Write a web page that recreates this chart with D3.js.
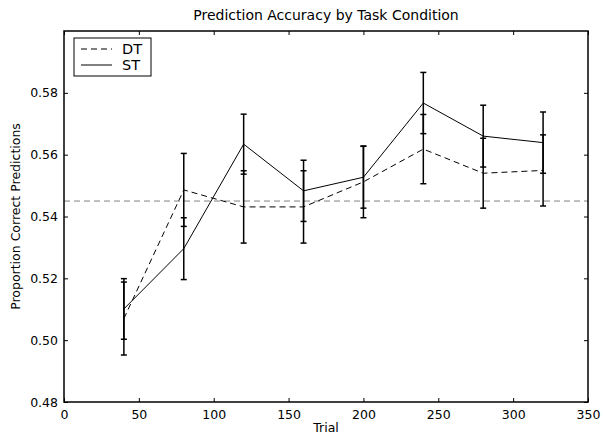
<!DOCTYPE html>
<html>
<head>
<meta charset="utf-8">
<script src="https://cdn.jsdelivr.net/npm/d3@7"></script>
<style>
  body { margin: 0; background: #fff; }
  text { font-family: "DejaVu Sans", sans-serif; fill: #000; }
</style>
</head>
<body>
<div id="chart"></div>
<script>
// data
var trials = [40, 80, 120, 160, 200, 240, 280, 320];
var dtMean = [0.507, 0.5486, 0.5431, 0.5431, 0.5512, 0.5618, 0.554, 0.5549];
var dtErr  = [0.0118, 0.0118, 0.0117, 0.0117, 0.0116, 0.0112, 0.0113, 0.0115];
var stMean = [0.5101, 0.5296, 0.5634, 0.5483, 0.5527, 0.5767, 0.566, 0.5639];
var stErr  = [0.0098, 0.0100, 0.0097, 0.0099, 0.0100, 0.0099, 0.0100, 0.0099];
var chance = 0.545;
var xTicks = [0, 50, 100, 150, 200, 250, 300, 350];
var yTicks = [0.48, 0.50, 0.52, 0.54, 0.56, 0.58];

var width = 603, height = 438;
var margin = {top: 31, right: 15, bottom: 36, left: 64};

var svg = d3.select("#chart").append("svg")
    .attr("width", width)
    .attr("height", height);

var x = d3.scaleLinear().domain([0, 350]).range([margin.left, width - margin.right]);
var y = d3.scaleLinear().domain([0.48, 0.60]).range([height - margin.bottom, margin.top]);

// ticks on all four sides, pointing inward like matplotlib
function tickLines(axisGen, cls, transform) {
  var g = svg.append("g").attr("class", cls).attr("transform", transform).call(axisGen);
  g.select(".domain").remove();
  g.selectAll(".tick line").attr("stroke", "#000").attr("stroke-width", 1);
  return g;
}

var bottom = tickLines(d3.axisBottom(x).tickValues(xTicks).tickSize(-4).tickPadding(6).tickFormat(d3.format("d")),
  "x-axis", "translate(0," + y.range()[0] + ")");
bottom.selectAll("text").attr("font-size", "12.5px").attr("dy", "0.85em");
tickLines(d3.axisTop(x).tickValues(xTicks).tickSize(-4).tickFormat(""), "x-top", "translate(0," + y.range()[1] + ")");

var left = tickLines(d3.axisLeft(y).tickValues(yTicks).tickSize(-4).tickPadding(6).tickFormat(d3.format(".2f")),
  "y-axis", "translate(" + x.range()[0] + ",0)");
left.selectAll("text").attr("font-size", "12.5px");
tickLines(d3.axisRight(y).tickValues(yTicks).tickSize(-4).tickFormat(""), "y-right", "translate(" + x.range()[1] + ",0)");

// chance line
svg.append("line")
    .attr("x1", x.range()[0]).attr("x2", x.range()[1])
    .attr("y1", y(chance)).attr("y2", y(chance))
    .attr("stroke", "#808080").attr("stroke-width", 1)
    .attr("stroke-dasharray", "6,4");

function drawSeries(means, errs, dash) {
  var pts = trials.map(function(t, i) { return {t: t, m: means[i], e: errs[i]}; });
  var line = d3.line().x(function(d) { return x(d.t); }).y(function(d) { return y(d.m); });
  svg.append("path")
      .datum(pts)
      .attr("d", line)
      .attr("fill", "none")
      .attr("stroke", "#000")
      .attr("stroke-width", 1)
      .attr("stroke-dasharray", dash);
  var bars = svg.append("g").selectAll("g").data(pts).enter().append("g");
  bars.append("line")
      .attr("x1", function(d) { return x(d.t); }).attr("x2", function(d) { return x(d.t); })
      .attr("y1", function(d) { return y(d.m - d.e); }).attr("y2", function(d) { return y(d.m + d.e); })
      .attr("stroke", "#000").attr("stroke-width", 1.5);
  [-1, 1].forEach(function(s) {
    bars.append("line")
        .attr("x1", function(d) { return x(d.t) - 3; }).attr("x2", function(d) { return x(d.t) + 3; })
        .attr("y1", function(d) { return y(d.m + s * d.e); }).attr("y2", function(d) { return y(d.m + s * d.e); })
        .attr("stroke", "#000").attr("stroke-width", 1.5);
  });
}

drawSeries(dtMean, dtErr, "6,4");
drawSeries(stMean, stErr, null);

// frame
svg.append("rect")
    .attr("x", x.range()[0]).attr("y", y.range()[1])
    .attr("width", x.range()[1] - x.range()[0])
    .attr("height", y.range()[0] - y.range()[1])
    .attr("fill", "none").attr("stroke", "#000").attr("stroke-width", 1.5);

// legend
var leg = svg.append("g").attr("transform", "translate(74,38)");
leg.append("rect").attr("width", 77).attr("height", 38)
    .attr("fill", "#fff").attr("stroke", "#000").attr("stroke-width", 1);
[["DT", "6,4"], ["ST", null]].forEach(function(d, i) {
  var ly = 11 + i * 16;
  leg.append("line").attr("x1", 7).attr("x2", 38).attr("y1", ly).attr("y2", ly)
      .attr("stroke", "#000").attr("stroke-width", 1).attr("stroke-dasharray", d[1]);
  leg.append("text").attr("x", 48).attr("y", ly).attr("dy", "0.36em")
      .attr("font-size", "14.5px").text(d[0]);
});

// titles
svg.append("text")
    .attr("x", (x.range()[0] + x.range()[1]) / 2).attr("y", 20)
    .attr("text-anchor", "middle").attr("font-size", "14px")
    .text("Prediction Accuracy by Task Condition");
svg.append("text")
    .attr("x", (x.range()[0] + x.range()[1]) / 2).attr("y", 432)
    .attr("text-anchor", "middle").attr("font-size", "12.5px")
    .text("Trial");
svg.append("text")
    .attr("transform", "translate(20," + (y.range()[0] + y.range()[1]) / 2 + ") rotate(-90)")
    .attr("text-anchor", "middle").attr("font-size", "12.5px")
    .text("Proportion Correct Predictions");
</script>
</body>
</html>
